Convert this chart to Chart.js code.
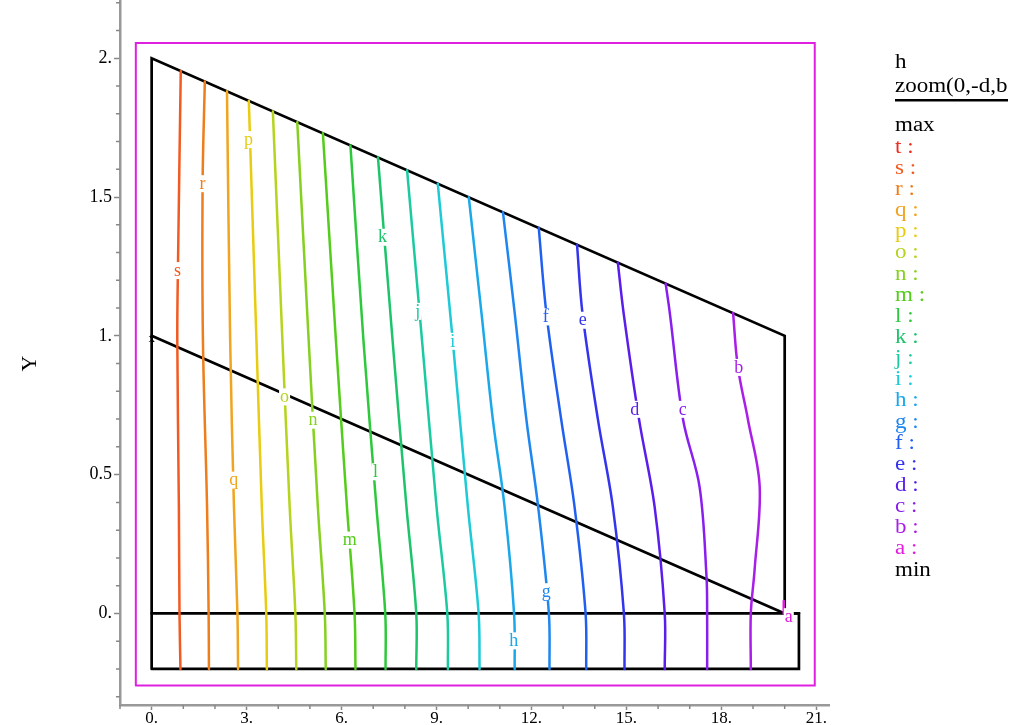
<!DOCTYPE html>
<html>
<head>
<meta charset="utf-8">
<script src="https://cdn.jsdelivr.net/npm/chart.js@4/dist/chart.umd.min.js"></script>
<style>
  html, body { margin: 0; padding: 0; background: #fff; }
  #wrap { width: 1029px; height: 725px; }
</style>
</head>
<body>
<div id="wrap"><canvas id="c" width="1029" height="725"></canvas></div>
<script>
// Iso-value levels of h, from max (t) down to min (a)
const levelNames = ['t','s','r','q','p','o','n','m','l','k','j','i','h','g','f','e','d','c','b','a'];
const levelColors = ['#f02c20','#f25a22','#ee7d1c','#f0a420','#e8cc12','#b4d41e','#86d020','#54cc1c',
                     '#2ec83c','#1ec46c','#1ccaa2','#1ecad6','#1aa8ea','#1e86f0','#2060f0','#3434ee',
                     '#5a1eec','#8a1eee','#aa1ee8','#e01ee0'];

// Axis ticks
const xTicks = [0, 3, 6, 9, 12, 15, 18, 21];
const yTicks = [0, 0.5, 1, 1.5, 2];

// Contour lines, [x, y] from the top edge down to the bottom of the domain
const lineS = [[0.92,1.954],[0.83,1.24],[0.81,0.986],[0.86,0.385],[0.88,0],[0.91,-0.2]];
const lineR = [[1.68,1.916],[1.61,1.55],[1.62,0.986],[1.75,0.385],[1.80,0],[1.81,-0.2]];
const lineQ = [[2.38,1.881],[2.48,0.986],[2.60,0.385],[2.71,0],[2.73,-0.2]];
const lineP = [[3.07,1.846],[3.31,0.986],[3.48,0.385],[3.62,0],[3.64,-0.2]];
const lineO = [[3.83,1.808],[4.13,0.986],[4.36,0.385],[4.54,0],[4.57,-0.2]];
const lineN = [[4.60,1.770],[4.96,0.986],[5.25,0.385],[5.47,0],[5.50,-0.2]];
const lineM = [[5.41,1.730],[5.82,0.986],[6.17,0.385],[6.41,0],[6.44,-0.2]];
const lineL = [[6.28,1.686],[6.69,0.986],[7.10,0.385],[7.38,0],[7.39,-0.2]];
const lineK = [[7.15,1.643],[7.61,0.986],[8.05,0.385],[8.36,0],[8.36,-0.2]];
const lineJ = [[8.07,1.597],[8.54,0.986],[9.00,0.385],[9.34,0],[9.36,-0.2]];
const lineI = [[9.04,1.548],[9.51,0.986],[9.99,0.385],[10.33,0],[10.36,-0.2]];
const lineH = [[10.02,1.499],[10.42,1.083],[10.78,0.698],[11.15,0.385],[11.45,0],[11.47,-0.2]];
const lineG = [[11.10,1.445],[11.47,1.083],[11.84,0.698],[12.21,0.385],[12.55,0],[12.57,-0.2]];
const lineF = [[12.23,1.389],[12.47,1.083],[12.94,0.698],[13.36,0.385],[13.71,0],[13.73,-0.2]];
const lineE = [[13.44,1.328],[13.61,1.083],[14.10,0.698],[14.57,0.385],[14.92,0],[14.94,-0.2]];
const lineD = [[14.73,1.263],[14.91,1.083],[15.40,0.698],[15.89,0.385],[16.21,0],[16.21,-0.2]];
const lineC = [[16.24,1.188],[16.37,1.083],[16.79,0.698],[17.31,0.457],[17.53,0.133],[17.55,0],[17.55,-0.2]];
const lineB = [[18.37,1.082],[18.52,0.888],[18.84,0.698],[19.21,0.457],[19.05,0.158],[18.93,0],[18.93,-0.2]];
const lineA = [[19.97,0.045],[19.97,0]];

const contourLetters = ['s','r','q','p','o','n','m','l','k','j','i','h','g','f','e','d','c','b','a'];
const contourLines = [lineS,lineR,lineQ,lineP,lineO,lineN,lineM,lineL,lineK,lineJ,lineI,
                      lineH,lineG,lineF,lineE,lineD,lineC,lineB,lineA];

// Level labels written on the lines
const labelLetters = ['s','r','q','p','o','n','m','l','k','j','i','h','g','f','e','d','c','b','a'];
const labelX = [0.82,1.61,2.59,3.06,4.20,5.10,6.26,7.07,7.29,8.41,9.51,11.44,12.47,12.45,13.62,15.26,16.78,18.55,20.13];
const labelY = [1.237,1.55,0.482,1.709,0.782,0.698,0.266,0.512,1.357,1.09,0.982,-0.097,0.08,1.07,1.058,0.737,0.737,0.888,-0.01];

// Mesh boundary and interior edges
const meshOutline = [[0,-0.2],[20.45,-0.2],[20.45,0],[20,0],[20,1],[0,2],[0,-0.2]];
const meshFloor = [[0,0],[20.45,0]];
const meshDiagonal = [[0,1],[20,0]];
// Zoom window frame
const frameBox = [[-0.5,-0.26],[20.95,-0.26],[20.95,2.055],[-0.5,2.055],[-0.5,-0.26]];

const SERIF = '"Liberation Serif", "DejaVu Serif", serif';
const pts = a => a.map(p => ({x: p[0], y: p[1]}));
const colorOf = ch => levelColors[levelNames.indexOf(ch)];

const datasets = [];
datasets.push({data: pts(frameBox), borderColor: '#e020e0', borderWidth: 2, tension: 0});
contourLines.forEach((ln, i) => {
  datasets.push({data: pts(ln), borderColor: colorOf(contourLetters[i]), borderWidth: 2.5, tension: 0.35});
});
[meshOutline, meshFloor, meshDiagonal].forEach(ln => {
  datasets.push({data: pts(ln), borderColor: '#000', borderWidth: 2.7, tension: 0});
});
datasets.forEach(d => { d.showLine = true; d.pointRadius = 0; d.fill = false; d.borderCapStyle = 'round'; d.borderJoinStyle = 'miter'; });

const fmt = v => Number.isInteger(v) ? v + '.' : String(v);

// Short minor ticks between the labelled ones, and the Y axis name
const minorTicks = {
  id: 'minorTicks',
  afterDraw(chart) {
    const {ctx, scales: {x, y}} = chart;
    ctx.save();
    ctx.strokeStyle = '#888';
    ctx.lineWidth = 1.5;
    ctx.beginPath();
    for (let v = -1; v <= 21; v++) {
      if (v % 3 === 0) continue;
      const px = x.getPixelForValue(v);
      ctx.moveTo(px, x.top); ctx.lineTo(px, x.top + 4);
    }
    for (let k = -3; k <= 22; k++) {
      if (k % 5 === 0) continue;
      const py = y.getPixelForValue(k / 10);
      ctx.moveTo(y.right, py); ctx.lineTo(y.right - 4, py);
    }
    ctx.stroke();
    ctx.translate(30, y.getPixelForValue(0.9));
    ctx.rotate(-Math.PI / 2);
    ctx.font = '22px ' + SERIF;
    ctx.fillStyle = '#000';
    ctx.textAlign = 'center';
    ctx.textBaseline = 'middle';
    ctx.fillText('Y', 0, 0);
    ctx.restore();
  }
};

// Letter labels on the contour lines
const lineLabels = {
  id: 'lineLabels',
  afterDatasetsDraw(chart) {
    const {ctx, scales: {x, y}} = chart;
    ctx.save();
    ctx.font = '18px ' + SERIF;
    ctx.textAlign = 'center';
    ctx.textBaseline = 'middle';
    labelLetters.forEach((ch, i) => {
      const px = x.getPixelForValue(labelX[i]);
      const py = y.getPixelForValue(labelY[i]);
      const w = ctx.measureText(ch).width;
      ctx.fillStyle = '#fff';
      ctx.fillRect(px - w / 2 - 1, py - 8, w + 2, 17);
      ctx.fillStyle = colorOf(ch);
      ctx.fillText(ch, px, py + 1);
    });
    // start of the diagonal edge
    ctx.font = '13px ' + SERIF;
    ctx.fillStyle = '#000';
    ctx.fillText('x', x.getPixelForValue(0), y.getPixelForValue(0.99));
    ctx.restore();
  }
};

// Level key on the right
const levelKey = {
  id: 'levelKey',
  afterDraw(chart) {
    const ctx = chart.ctx;
    const x0 = 895;
    ctx.save();
    ctx.fillStyle = '#000';
    ctx.fillRect(x0, 99, 113, 2.5);
    ctx.translate(x0, 0);
    ctx.scale(1.15, 1);
    ctx.font = '20px ' + SERIF;
    ctx.textAlign = 'left';
    ctx.textBaseline = 'middle';
    ctx.fillText('h', 0, 63);
    ctx.fillText('zoom(0,-d,b', 0, 87);
    ctx.fillText('max', 0, 126);
    const step = 21.14;
    levelNames.forEach((ch, i) => {
      ctx.fillStyle = levelColors[i];
      ctx.fillText(ch + ' :', 0, 147.5 + i * step);
    });
    ctx.fillStyle = '#000';
    ctx.fillText('min', 0, 147.5 + 20 * step);
    ctx.restore();
  }
};

new Chart(document.getElementById('c'), {
  type: 'scatter',
  data: {datasets},
  options: {
    responsive: false,
    animation: false,
    layout: {padding: {left: 0, right: 200, top: 0, bottom: 0}},
    plugins: {legend: {display: false}, tooltip: {enabled: false}},
    scales: {
      x: {
        type: 'linear', min: -1, max: 21.4,
        afterFit(s) { s.height = 20; s.paddingLeft = 0; s.paddingRight = 0; },
        afterBuildTicks(s) { s.ticks = xTicks.map(v => ({value: v})); },
        ticks: {callback: fmt, font: {family: SERIF, size: 17, lineHeight: 1}, color: '#000', padding: 0, maxRotation: 0, autoSkip: false},
        grid: {drawOnChartArea: false, drawTicks: true, tickLength: 5, color: '#888', tickWidth: 1.5},
        border: {display: true, color: '#999', width: 2.5}
      },
      y: {
        type: 'linear', min: -0.33, max: 2.21,
        afterFit(s) { s.width = 120; s.paddingTop = 0; s.paddingBottom = 0; },
        afterBuildTicks(s) { s.ticks = yTicks.map(v => ({value: v})); },
        ticks: {callback: fmt, font: {family: SERIF, size: 18}, color: '#000', padding: 2, autoSkip: false},
        grid: {drawOnChartArea: false, drawTicks: true, tickLength: 6, color: '#888', tickWidth: 1.5},
        border: {display: true, color: '#999', width: 2.5}
      }
    }
  },
  plugins: [minorTicks, lineLabels, levelKey]
});
</script>
</body>
</html>
